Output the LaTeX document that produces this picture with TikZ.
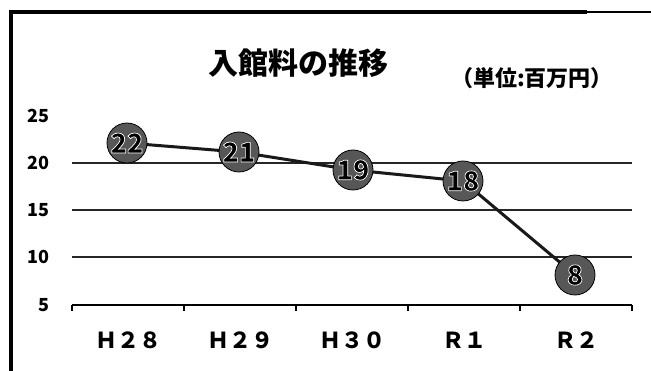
\documentclass[tikz,border=0pt]{standalone}
\usepackage{fontspec}
\setmainfont{Noto Sans CJK JP}
% black digits with a white rim, one text only
\newcommand\rimtext[1]{\special{pdf:literal direct 2 Tr 1 1 1 RG 0.7 w}#1\special{pdf:literal direct 0 Tr 0 0 0 RG}}
\begin{document}
\begin{tikzpicture}[x=1pt,y=1pt]
\tikzstyle{every node}+=[inner sep=0pt]
\tikzstyle{grid line}=[black!85, line width=1.6pt]
\tikzstyle{axis line}=[black, line width=2.6pt]
\tikzstyle{data line}=[black!90, line width=3pt]
\tikzstyle{dot}=[circle, fill=black!66, draw=black, line width=0.8pt, minimum size=40pt]
\tikzstyle{point}=[font=\bfseries\fontsize{27}{27}\selectfont]
\tikzstyle{val label}=[anchor=east, font=\bfseries\fontsize{18}{18}\selectfont]
\tikzstyle{cat label}=[font=\bfseries\fontsize{22}{22}\selectfont]
\useasboundingbox (0,0) rectangle (651,-371);
% frame
\draw [line width=4pt] (11,-371) -- (11,-12) -- (587,-12);
\draw [line width=1.8pt] (587,-12) -- (651,-12);
% titles
\node [font=\bfseries\fontsize{30}{30}\selectfont] (title) at (298,-63) {入館料の推移};
\node [font=\bfseries\fontsize{22}{22}\selectfont] (unit) at (532,-78) {（単位:百万円）};
% value axis
\node [val label] (l25) at (50,-116) {25};
\node [val label] (l20) at (50,-163) {20};
\node [val label] (l15) at (50,-210) {15};
\node [val label] (l10) at (50,-257) {10};
\node [val label] (l5) at (50,-305) {5};
\coordinate (g20a) at (72,-163); \coordinate (g20b) at (632,-163);
\coordinate (g15a) at (72,-210); \coordinate (g15b) at (632,-210);
\coordinate (g10a) at (72,-257); \coordinate (g10b) at (632,-257);
\draw [grid line] (g20a) -- (g20b);
\draw [grid line] (g15a) -- (g15b);
\draw [grid line] (g10a) -- (g10b);
% category axis
\coordinate (ax0) at (72,-305);
\coordinate (ax5) at (632,-305);
\draw [axis line] (ax0) -- (ax5);
\foreach \x in {72,184,296,408,520,632}
  \draw [axis line, line width=2pt] (\x,-305) -- ++(0,-6);
\node [cat label] (h28) at (128,-340) {Ｈ２８};
\node [cat label] (h29) at (240,-340) {Ｈ２９};
\node [cat label] (h30) at (352,-340) {Ｈ３０};
\node [cat label] (r1) at (464,-340) {Ｒ１};
\node [cat label] (r2) at (576,-340) {Ｒ２};
% data
\coordinate (c1) at (127,-143);
\coordinate (c2) at (239,-152);
\coordinate (c3) at (353,-170);
\coordinate (c4) at (463,-181);
\coordinate (c5) at (575,-275);
\draw [data line] (c1) -- (c2) -- (c3) -- (c4) -- (c5);
\node [dot] (d1) at (c1) {};
\node [dot] (d2) at (c2) {};
\node [dot] (d3) at (c3) {};
\node [dot] (d4) at (c4) {};
\node [dot] (d5) at (c5) {};
\node [point] (p1) at (d1) {\rimtext{22}};
\node [point] (p2) at (d2) {\rimtext{21}};
\node [point] (p3) at (d3) {\rimtext{19}};
\node [point] (p4) at (d4) {\rimtext{18}};
\node [point] (p5) at (d5) {\rimtext{8}};
\end{tikzpicture}
\end{document}
